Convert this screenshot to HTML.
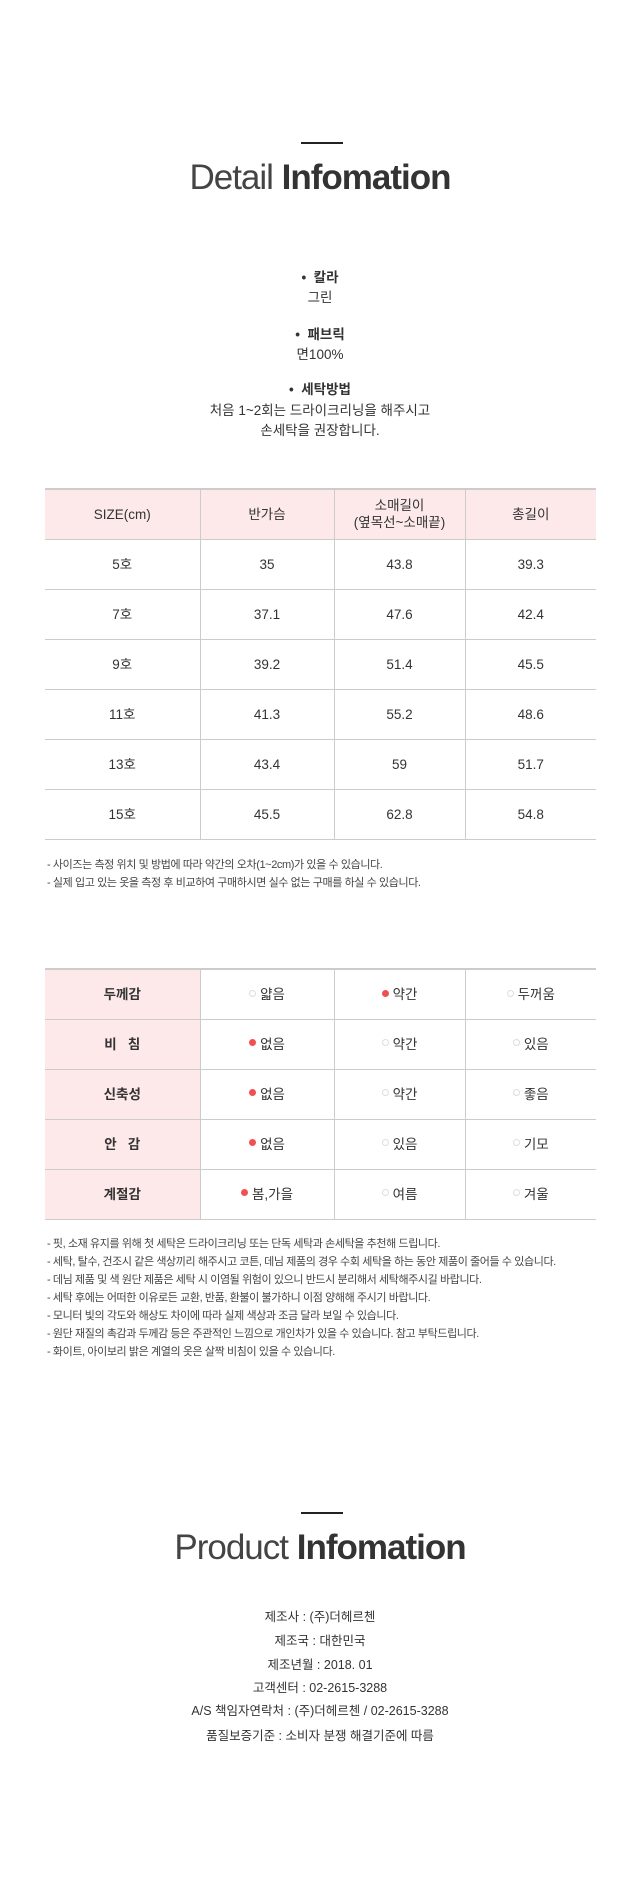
<!DOCTYPE html>
<html><head><meta charset="utf-8"><style>
*{margin:0;padding:0;box-sizing:border-box}
body{width:640px;height:1900px;background:#fff;position:relative;font-family:"Liberation Sans","Noto Sans CJK KR",sans-serif;color:#333;overflow:hidden}
.a{position:absolute;left:0;width:640px;text-align:center;white-space:nowrap}
.dash{position:absolute;left:301px;width:42px;height:2px;background:#222}
.title{font-size:35px;letter-spacing:-1px;color:#333;line-height:40px}
.title b{font-weight:bold}
.title span{font-weight:normal;color:#444}
.bl{font-size:13.5px;line-height:20px}
table{position:absolute;left:45px;width:551px;border-collapse:collapse;font-size:13.5px;color:#333}
td{border-top:1px solid #ccc;border-bottom:1px solid #ccc;border-left:1px solid #ccc;text-align:center;height:50px;padding:0;line-height:17px}
td:first-child{border-left:none}
tr:first-child td{border-top:2px solid #ccc}
.pink{background:#fde9e9}
.dot{display:inline-block;width:7px;height:7px;border-radius:50%;border:1px solid #ddd;vertical-align:middle;margin-right:4px;position:relative;top:-2px}
.on{background:#f05050;border-color:#f05050}
.note{position:absolute;left:47px;font-size:11px;color:#444;line-height:18px;white-space:nowrap;letter-spacing:-0.4px}
.pi{font-size:12.5px;color:#333;line-height:18px}
</style></head><body>
<div class="dash" style="top:142px"></div>
<div class="a title" style="top:158px"><span>Detail</span> <b>Infomation</b></div>

<div class="a bl" style="top:268px"><b>•&nbsp; 칼라</b></div>
<div class="a bl" style="top:288px">그린</div>
<div class="a bl" style="top:325px"><b>•&nbsp; 패브릭</b></div>
<div class="a bl" style="top:345px">면100%</div>
<div class="a bl" style="top:380px"><b>•&nbsp; 세탁방법</b></div>
<div class="a bl" style="top:401px">처음 1~2회는 드라이크리닝을 해주시고</div>
<div class="a bl" style="top:421px">손세탁을 권장합니다.</div>

<table style="top:488px">
<colgroup><col style="width:155px"><col style="width:134px"><col style="width:131px"><col style="width:131px"></colgroup>
<tr class="pink"><td>SIZE(cm)</td><td>반가슴</td><td>소매길이<br>(옆목선~소매끝)</td><td>총길이</td></tr>
<tr><td>5호</td><td>35</td><td>43.8</td><td>39.3</td></tr>
<tr><td>7호</td><td>37.1</td><td>47.6</td><td>42.4</td></tr>
<tr><td>9호</td><td>39.2</td><td>51.4</td><td>45.5</td></tr>
<tr><td>11호</td><td>41.3</td><td>55.2</td><td>48.6</td></tr>
<tr><td>13호</td><td>43.4</td><td>59</td><td>51.7</td></tr>
<tr><td>15호</td><td>45.5</td><td>62.8</td><td>54.8</td></tr>
</table>
<div class="note" style="top:856px">- 사이즈는 측정 위치 및 방법에 따라 약간의 오차(1~2cm)가 있을 수 있습니다.<br>- 실제 입고 있는 옷을 측정 후 비교하여 구매하시면 실수 없는 구매를 하실 수 있습니다.</div>

<table style="top:968px">
<colgroup><col style="width:155px"><col style="width:134px"><col style="width:131px"><col style="width:131px"></colgroup>
<tr><td class="pink"><b>두께감</b></td><td><span class="dot"></span>얇음</td><td><span class="dot on"></span>약간</td><td><span class="dot"></span>두꺼움</td></tr>
<tr><td class="pink"><b>비 &nbsp; 침</b></td><td><span class="dot on"></span>없음</td><td><span class="dot"></span>약간</td><td><span class="dot"></span>있음</td></tr>
<tr><td class="pink"><b>신축성</b></td><td><span class="dot on"></span>없음</td><td><span class="dot"></span>약간</td><td><span class="dot"></span>좋음</td></tr>
<tr><td class="pink"><b>안 &nbsp; 감</b></td><td><span class="dot on"></span>없음</td><td><span class="dot"></span>있음</td><td><span class="dot"></span>기모</td></tr>
<tr><td class="pink"><b>계절감</b></td><td><span class="dot on"></span>봄,가을</td><td><span class="dot"></span>여름</td><td><span class="dot"></span>겨울</td></tr>
</table>
<div class="note" style="top:1235px">- 핏, 소재 유지를 위해 첫 세탁은 드라이크리닝 또는 단독 세탁과 손세탁을 추천해 드립니다.<br>- 세탁, 탈수, 건조시 같은 색상끼리 해주시고 코튼, 데님 제품의 경우 수회 세탁을 하는 동안 제품이 줄어들 수 있습니다.<br>- 데님 제품 및 색 원단 제품은 세탁 시 이염될 위험이 있으니 반드시 분리해서 세탁해주시길 바랍니다.<br>- 세탁 후에는 어떠한 이유로든 교환, 반품, 환불이 불가하니 이점 양해해 주시기 바랍니다.<br>- 모니터 빛의 각도와 해상도 차이에 따라 실제 색상과 조금 달라 보일 수 있습니다.<br>- 원단 재질의 촉감과 두께감 등은 주관적인 느낌으로 개인차가 있을 수 있습니다. 참고 부탁드립니다.<br>- 화이트, 아이보리 밝은 계열의 옷은 살짝 비침이 있을 수 있습니다.</div>

<div class="dash" style="top:1512px"></div>
<div class="a title" style="top:1528px"><span>Product</span> <b>Infomation</b></div>
<div class="a pi" style="top:1608px">제조사 : (주)더헤르첸</div>
<div class="a pi" style="top:1632px">제조국 : 대한민국</div>
<div class="a pi" style="top:1656px">제조년월 : 2018. 01</div>
<div class="a pi" style="top:1679px">고객센터 : 02-2615-3288</div>
<div class="a pi" style="top:1702px">A/S 책임자연락처 : (주)더헤르첸 / 02-2615-3288</div>
<div class="a pi" style="top:1727px">품질보증기준 : 소비자 분쟁 해결기준에 따름</div>
</body></html>
